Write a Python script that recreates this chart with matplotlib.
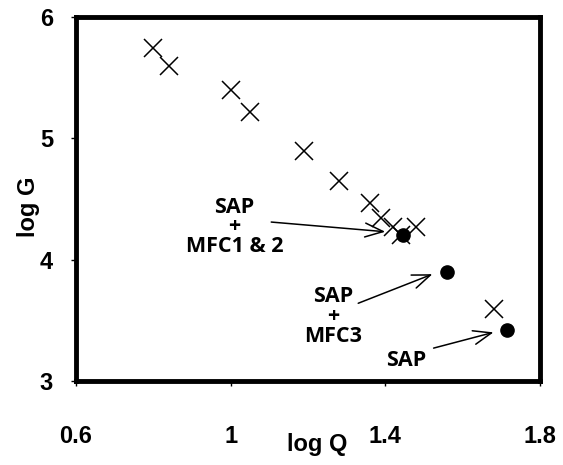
import matplotlib

matplotlib.use("Agg")
import matplotlib.pyplot as plt

# mixed-culture series (crosses)
cross_logq = [0.80, 0.84, 1.00, 1.05, 1.19, 1.28, 1.36, 1.39, 1.42, 1.44, 1.48, 1.68]
cross_logg = [5.75, 5.60, 5.40, 5.22, 4.90, 4.65, 4.47, 4.34, 4.27, 4.20, 4.27, 3.59]

# SAP-based strains (dots)
dot_logq = [1.447, 1.559, 1.716]
dot_logg = [4.20, 3.90, 3.42]

labels = ["SAP\n+\nMFC1 & 2", "SAP\n+\nMFC3", "SAP"]
label_xy = [(1.01, 4.27), (1.265, 3.53), (1.455, 3.17)]
arrow_from = [(1.105, 4.31), (1.33, 3.64), (1.525, 3.27)]
arrow_to = [(1.40, 4.23), (1.522, 3.88), (1.68, 3.40)]

fig = plt.figure(figsize=(5.63, 4.65), dpi=100)
ax = fig.add_axes([0.135, 0.181, 0.824, 0.782])

ax.plot(cross_logq, cross_logg, linestyle="none", marker="x", markersize=13,
        markeredgewidth=1.1, color="black")
ax.plot(dot_logq, dot_logg, linestyle="none", marker="o", markersize=9.5, color="black")

for txt, (tx, ty) in zip(labels, label_xy):
    ax.text(tx, ty, txt, ha="center", va="center", fontsize=15.5, fontweight="bold",
            family="Open Sans", linespacing=0.92)
for (x0, y0), (x1, y1) in zip(arrow_from, arrow_to):
    ax.annotate("", xy=(x1, y1), xytext=(x0, y0),
                arrowprops=dict(arrowstyle="->,head_length=1.3,head_width=0.5",
                                color="black", lw=1.1, shrinkA=0, shrinkB=0))

ax.set_xlim(0.6, 1.8)
ax.set_ylim(3, 6)
ax.set_xticks([0.6, 1.0, 1.4, 1.8])
ax.set_xticklabels(["0.6", "1", "1.4", "1.8"])
ax.set_yticks([3, 4, 5, 6])
for s in ax.spines.values():
    s.set_linewidth(3.5)
ax.tick_params(direction="out", length=3.5, width=1, labelsize=17)
ax.tick_params(axis="x", pad=28.5)
ax.tick_params(axis="y", pad=13)
for lab in ax.get_xticklabels() + ax.get_yticklabels():
    lab.set_fontweight("bold")
    lab.set_family("Liberation Sans")

ax.set_xlabel("log Q", fontsize=17, fontweight="bold", family="Liberation Sans")
ax.set_ylabel("log G", fontsize=17, fontweight="bold", family="Liberation Sans")
ax.xaxis.set_label_coords(0.52, -0.176)
ax.xaxis.label.set_va("center")
ax.yaxis.set_label_coords(-0.103, 0.478)
ax.yaxis.label.set_va("center")

fig.savefig("out.png", dpi=100)
